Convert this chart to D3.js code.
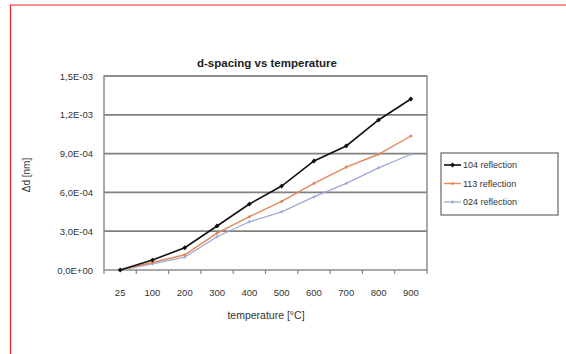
<!DOCTYPE html>
<html>
<head>
<meta charset="utf-8">
<script src="https://cdn.jsdelivr.net/npm/d3@7"></script>
<style>
  html, body { margin: 0; padding: 0; background: #fff; }
  svg { display: block; font-family: "Liberation Sans", Arial, sans-serif; }
</style>
</head>
<body>
<svg id="chart" width="566" height="354"></svg>
<script>
/* ── Data ─────────────────────────────────────────────── */
const categories = ['25', '100', '200', '300', '400', '500', '600', '700', '800', '900'];
const r104 = [0.000000, 0.000077, 0.000172, 0.000340, 0.000510, 0.000649, 0.000843, 0.000959, 0.001160, 0.001322];
const r113 = [0.000000, 0.000058, 0.000118, 0.000285, 0.000412, 0.000530, 0.000670, 0.000796, 0.000895, 0.001036];
const r024 = [0.000000, 0.000048, 0.000100, 0.000257, 0.000373, 0.000450, 0.000565, 0.000670, 0.000790, 0.000895];
const yTicks = [0, 0.0003, 0.0006, 0.0009, 0.0012, 0.0015];
const yTickLabels = ['0,0E+00', '3,0E-04', '6,0E-04', '9,0E-04', '1,2E-03', '1,5E-03'];

const series = [
  { name: '104 reflection', values: r104, color: '#111111', width: 1.6, mark: 3.4 },
  { name: '113 reflection', values: r113, color: '#e3875a', width: 1.4, mark: 2.6 },
  { name: '024 reflection', values: r024, color: '#9eaad6', width: 1.3, mark: 2.4 },
];

/* ── Layout ───────────────────────────────────────────── */
const svg = d3.select('#chart');
const plot = { left: 104, right: 427, top: 76, bottom: 270 };

// red frame (page border in the original)
svg.append('line').attr('x1', 10).attr('y1', 5).attr('x2', 566).attr('y2', 5)
  .attr('stroke', '#ee2222').attr('stroke-width', 1.2);
svg.append('line').attr('x1', 10.5).attr('y1', 5).attr('x2', 10.5).attr('y2', 354)
  .attr('stroke', '#ee2222').attr('stroke-width', 1.2);

const x = d3.scaleBand().domain(categories).range([plot.left, plot.right]);
const y = d3.scaleLinear().domain([0, 0.0015]).range([plot.bottom, plot.top]);

/* ── Gridlines ────────────────────────────────────────── */
svg.append('g').selectAll('line')
  .data(yTicks.slice(1)).join('line')
  .attr('x1', plot.left).attr('x2', plot.right)
  .attr('y1', d => y(d)).attr('y2', d => y(d))
  .attr('stroke', '#808080').attr('stroke-width', 1.7);

// plot frame
svg.append('rect')
  .attr('x', plot.left).attr('y', plot.top)
  .attr('width', plot.right - plot.left).attr('height', plot.bottom - plot.top)
  .attr('fill', 'none').attr('stroke', '#858585').attr('stroke-width', 1.4);

/* ── Axes ─────────────────────────────────────────────── */
const yAxis = svg.append('g')
  .attr('transform', `translate(${plot.left},0)`)
  .call(d3.axisLeft(y).tickValues(yTicks).tickSize(0).tickPadding(11)
    .tickFormat((d, i) => yTickLabels[i]));
yAxis.select('.domain').remove();
yAxis.selectAll('text').attr('font-size', 9.5).attr('fill', '#333')
  .attr('font-family', '"Liberation Sans", Arial, sans-serif');

const xAxis = svg.append('g')
  .attr('transform', `translate(0,${plot.bottom})`)
  .call(d3.axisBottom(x).tickSize(0).tickPadding(19));
xAxis.select('.domain').remove();
xAxis.selectAll('text').attr('font-size', 9.5).attr('fill', '#333')
  .attr('font-family', '"Liberation Sans", Arial, sans-serif');

// tick marks between categories
const bounds = categories.map(c => x(c)).concat([plot.right]);
svg.append('g').selectAll('line')
  .data(bounds).join('line')
  .attr('x1', d => d).attr('x2', d => d)
  .attr('y1', plot.bottom).attr('y2', plot.bottom + 4)
  .attr('stroke', '#858585').attr('stroke-width', 1.2);

/* ── Series ───────────────────────────────────────────── */
const cx = c => x(c) + x.bandwidth() / 2;
const line = d3.line().x((d, i) => cx(categories[i])).y(d => y(d));

series.slice().reverse().forEach(s => {
  svg.append('path').datum(s.values)
    .attr('d', line).attr('fill', 'none')
    .attr('stroke', s.color).attr('stroke-width', s.width);
  svg.append('g').selectAll('rect')
    .data(s.values).join('rect')
    .attr('x', (d, i) => cx(categories[i]) - s.mark / 2)
    .attr('y', d => y(d) - s.mark / 2)
    .attr('width', s.mark).attr('height', s.mark)
    .attr('transform', (d, i) => `rotate(45,${cx(categories[i])},${y(d)})`)
    .attr('fill', s.color);
});

/* ── Titles ───────────────────────────────────────────── */
svg.append('text')
  .attr('x', 267).attr('y', 67).attr('text-anchor', 'middle')
  .attr('font-size', 11.5).attr('font-weight', 'bold').attr('fill', '#222')
  .text('d-spacing vs temperature');

svg.append('text')
  .attr('x', 266).attr('y', 319).attr('text-anchor', 'middle')
  .attr('font-size', 10.5).attr('fill', '#333')
  .text('temperature [°C]');

svg.append('text')
  .attr('transform', 'translate(30,175) rotate(-90)')
  .attr('text-anchor', 'middle')
  .attr('font-size', 10).attr('fill', '#333')
  .text('Δd [nm]');

/* ── Legend ───────────────────────────────────────────── */
const legend = svg.append('g').attr('transform', 'translate(441,153)');
legend.append('rect')
  .attr('width', 117).attr('height', 62)
  .attr('fill', '#fff').attr('stroke', '#666').attr('stroke-width', 1.2);

series.forEach((s, i) => {
  const ly = 12 + i * 18.5;
  legend.append('line')
    .attr('x1', 3).attr('x2', 20).attr('y1', ly).attr('y2', ly)
    .attr('stroke', s.color).attr('stroke-width', s.width);
  legend.append('rect')
    .attr('x', 11.5 - s.mark / 2).attr('y', ly - s.mark / 2)
    .attr('width', s.mark).attr('height', s.mark)
    .attr('transform', `rotate(45,11.5,${ly})`)
    .attr('fill', s.color);
  legend.append('text')
    .attr('x', 22).attr('y', ly + 3.3)
    .attr('font-size', 9).attr('fill', '#333')
    .text(s.name);
});
</script>
</body>
</html>
